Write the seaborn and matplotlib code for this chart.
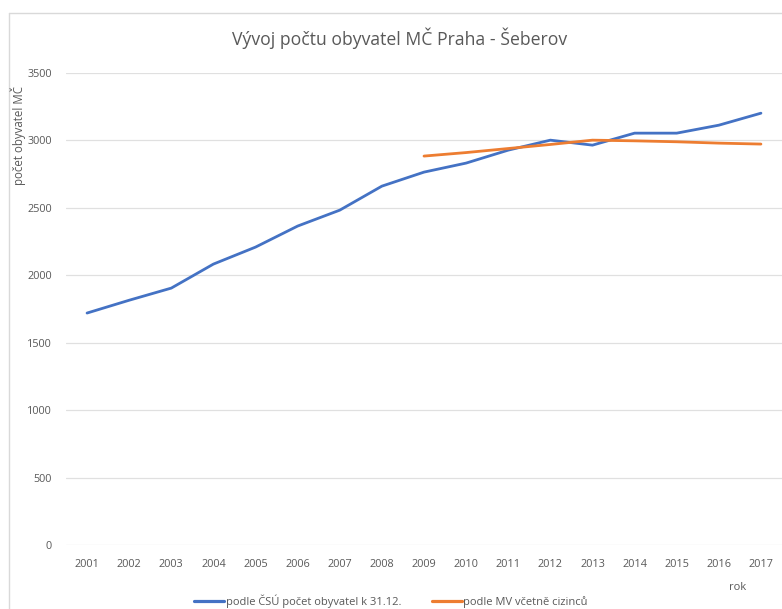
import matplotlib
matplotlib.use("Agg")
import matplotlib.pyplot as plt
import numpy as np
import pandas as pd
import seaborn as sns
from matplotlib.lines import Line2D

# hodnoty
roky = list(range(2001, 2018))
csu = [1720, 1815, 1905, 2083, 2209, 2365, 2483, 2661, 2765, 2832,
       2928, 3002, 2965, 3054, 3054, 3113, 3202]
roky_mv = list(range(2009, 2018))
mv = [2884, 2910, 2940, 2970, 3002, 2997, 2990, 2980, 2973]

lbl_csu = "podle ČSÚ počet obyvatel k 31.12."
lbl_mv = "podle MV včetně cizinců"

df = pd.concat([
    pd.DataFrame({"rok": roky, "pocet": csu, "serie": lbl_csu}),
    pd.DataFrame({"rok": roky_mv, "pocet": mv, "serie": lbl_mv}),
])

sns.set_style("white")
plt.rcParams["font.family"] = ["Open Sans", "DejaVu Sans"]

grey = "#595959"
fig = plt.figure(figsize=(7.82, 6.09), dpi=100)
ax = fig.add_axes([66 / 782, 1 - 545 / 609, 716 / 782, 472 / 609])

sns.lineplot(data=df, x="rok", y="pocet", hue="serie",
             palette={lbl_csu: "#4472C4", lbl_mv: "#ED7D31"},
             linewidth=2.0, ax=ax, legend=False)

ax.set_xlim(2000.5, 2017.5)
ax.set_ylim(0, 3500)
ax.set_xticks(roky)
ax.set_xticklabels([str(r) for r in roky])
ax.set_yticks(range(0, 3501, 500))
ax.yaxis.grid(True, color="#e0e0e0", linewidth=0.9)
ax.set_axisbelow(True)
for s in ax.spines.values():
    s.set_visible(False)
ax.tick_params(axis="both", length=0, labelsize=7.8, colors=grey, pad=10)
ax.tick_params(axis="y", pad=10)
ax.set_xlabel("")
ax.set_ylabel("")

fig.text(400 / 782, 1 - 38 / 609, "Vývoj počtu obyvatel MČ Praha - Šeberov",
         ha="center", va="center", fontsize=12.7, color=grey)
fig.text(18 / 782, 1 - 135 / 609, "počet obyvatel MČ", rotation=90,
         ha="center", va="center", fontsize=8.3, color=grey)
fig.text(738 / 782, 1 - 588 / 609, "rok", ha="center", va="center",
         fontsize=8, color=grey)

handles = [Line2D([], [], color="#4472C4", linewidth=2.3),
           Line2D([], [], color="#ED7D31", linewidth=2.3)]
fig.legend(handles, [lbl_csu, lbl_mv], loc="center", ncol=2,
           bbox_to_anchor=(391 / 782, 1 - 601 / 609), frameon=False,
           fontsize=8, labelcolor=grey, handlelength=2.7,
           handletextpad=0.15, columnspacing=2.7)

# rámeček grafu
fig.add_artist(plt.Line2D([8.5 / 782, 8.5 / 782], [0, 1 - 12.5 / 609],
                          transform=fig.transFigure, color="#d9d9d9", linewidth=1))
fig.add_artist(plt.Line2D([8.5 / 782, 1], [1 - 12.5 / 609, 1 - 12.5 / 609],
                          transform=fig.transFigure, color="#d9d9d9", linewidth=1))

fig.savefig("out.png", dpi=100, facecolor="white")
